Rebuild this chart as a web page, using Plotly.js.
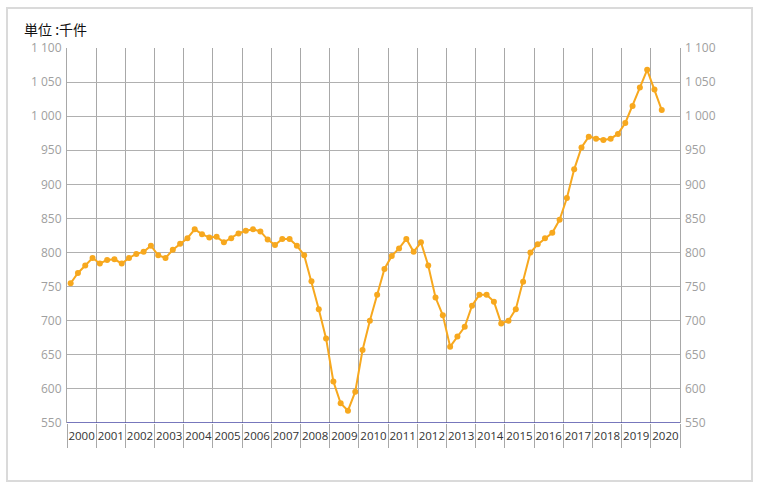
<!DOCTYPE html>
<html>
<head>
<meta charset="utf-8">
<script src="https://cdn.plot.ly/plotly-3.0.1.min.js"></script>
<style>html,body{margin:0;padding:0;background:#fff;}#chart{width:761px;height:490px;}</style>
</head>
<body>
<div id="chart"></div>
<script>
// Quarterly values (thousand units), 2000 Q1 – 2020 Q2
const years = [2000,2001,2002,2003,2004,2005,2006,2007,2008,2009,2010,2011,2012,2013,2014,2015,2016,2017,2018,2019,2020];
const quarters = [1,2,3,4];
const values = [
  755, 770, 781, 792,   // 2000
  784, 789, 790, 784,   // 2001
  792, 798, 801, 810,   // 2002
  796, 792, 804, 813,   // 2003
  821, 834, 827, 822,   // 2004
  823, 815, 821, 828,   // 2005
  832, 834, 831, 819,   // 2006
  811, 820, 820, 810,   // 2007
  796, 758, 717, 674,   // 2008
  611, 579, 568, 596,   // 2009
  657, 700, 738, 776,   // 2010
  795, 806, 820, 801,   // 2011
  815, 781, 734, 708,   // 2012
  662, 677, 691, 722,   // 2013
  738, 738, 728, 696,   // 2014
  700, 717, 757, 800,   // 2015
  812, 821, 829, 848,   // 2016
  880, 922, 954, 970,   // 2017
  967, 965, 967, 974,   // 2018
  990, 1015, 1042, 1068, // 2019
  1039, 1009            // 2020
];
const unitLabel = "単位 :千件";
const yMin = 550, yMax = 1100, yStep = 50;

// x positions: middle of each quarter slot within its year
const xs = values.map((v, i) => years[0] + Math.floor(i / 4) + (quarters[i % 4] - 0.5) / 4);
const yearMid = years.map(y => y + 0.5);
const yearText = years.map(String);

const orange = "#f7a81e";
const trace = {
  x: xs, y: values, type: "scatter", mode: "lines+markers",
  line: {color: orange, width: 2},
  marker: {color: orange, size: 6},
  hoverinfo: "skip", showlegend: false
};

const layout = {
  width: 761, height: 490,
  margin: {l: 67, r: 81, t: 48, b: 67},
  paper_bgcolor: "#fff", plot_bgcolor: "#fff",
  separators: ". ",
  font: {family: "'Open Sans', 'Noto Sans CJK JP', sans-serif", size: 12, color: "#999"},
  title: {
    text: unitLabel, xref: "container", yref: "container",
    x: 24/761, xanchor: "left", y: 1 - 30/490, yanchor: "middle",
    font: {family: "'Noto Sans CJK JP', sans-serif", size: 14, color: "#111"}
  },
  xaxis: {
    range: [years[0], years[years.length-1] + 1], fixedrange: true,
    tickmode: "array", tickvals: yearMid, ticktext: yearText, tickangle: 0,
    ticks: "", showgrid: false, zeroline: false,
    tickfont: {family: "'Open Sans', sans-serif", size: 11.5, color: "#333"},
    ticklabelstandoff: 4,
    showline: false,
    minor: {tickmode: "linear", tick0: years[0], dtick: 1, showgrid: true, gridcolor: "#a8a8a8", gridwidth: 1,
            ticks: "outside", ticklen: 24, tickcolor: "#a8a8a8", tickwidth: 1}
  },
  yaxis: {
    range: [yMin, yMax], dtick: yStep, tick0: yMin, tickformat: ",d", fixedrange: true,
    showgrid: true, gridcolor: "#b0b0b0", gridwidth: 1, zeroline: false,
    showline: true, linecolor: "#a8a8a8", mirror: true,
    ticks: "", ticklabelstandoff: 2,
    tickfont: {family: "'Open Sans', sans-serif", size: 12, color: "#a0a0a0"}
  },
  yaxis2: {
    range: [yMin, yMax], dtick: yStep, tick0: yMin, tickformat: ",d", fixedrange: true,
    overlaying: "y", side: "right", showgrid: false, zeroline: false, showline: false,
    ticks: "", ticklabelstandoff: 4,
    tickfont: {family: "'Open Sans', sans-serif", size: 12, color: "#a0a0a0"}
  },
  shapes: [{
    type: "rect", xref: "paper", yref: "paper",
    x0: (7-67)/613, x1: (752-67)/613, y0: (423-481)/375, y1: (423-8)/375,
    line: {color: "#dadada", width: 2}, fillcolor: "rgba(0,0,0,0)", layer: "below"
  }, {
    type: "line", xref: "paper", yref: "y", x0: 0, x1: 1, y0: yMin, y1: yMin,
    line: {color: "#4a4aa6", width: 1.3}, layer: "above"
  }]
};

const dummy = {x: [years[0]], y: [yMin], yaxis: "y2", type: "scatter", mode: "markers",
  marker: {opacity: 0}, hoverinfo: "skip", showlegend: false};

Plotly.newPlot("chart", [trace, dummy], layout, {staticPlot: true, displayModeBar: false});
</script>
</body>
</html>
